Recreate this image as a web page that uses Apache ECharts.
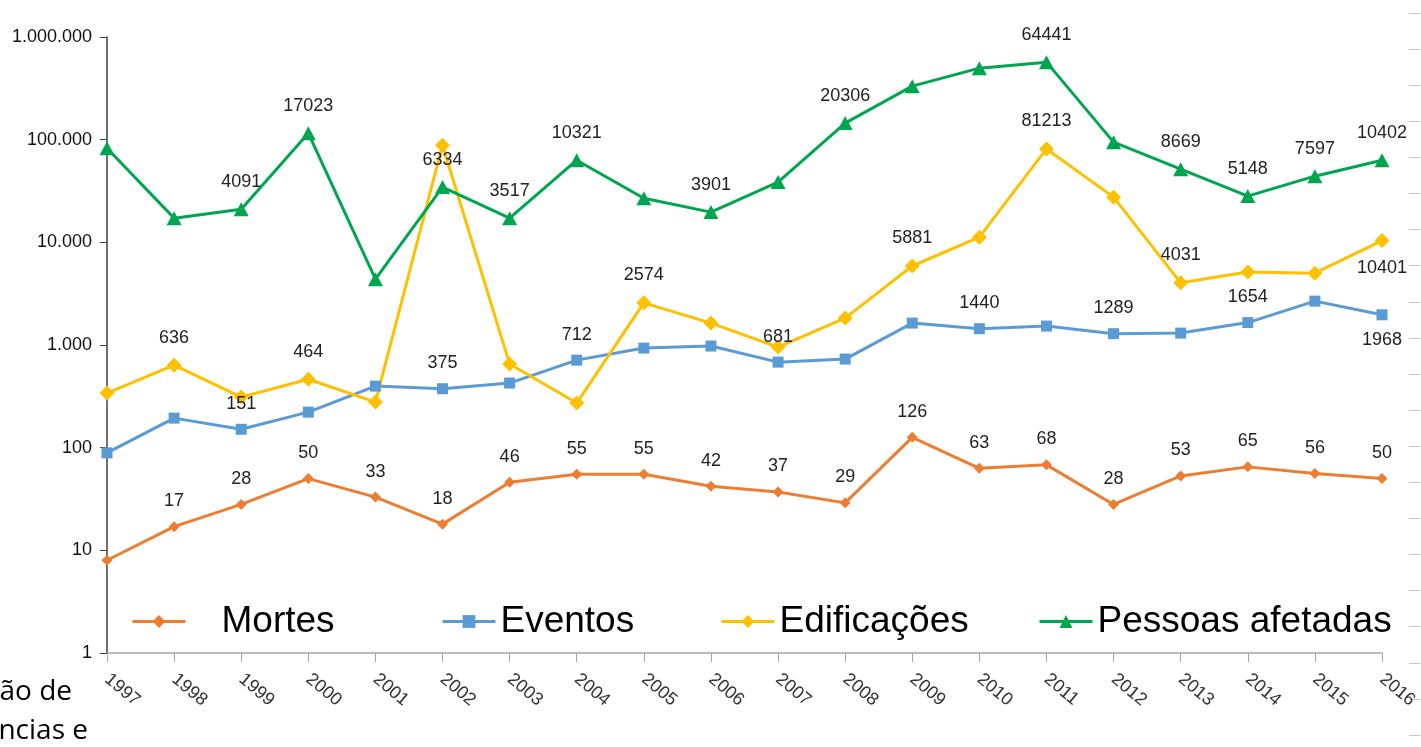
<!DOCTYPE html>
<html>
<head>
<meta charset="utf-8">
<script src="https://cdn.jsdelivr.net/npm/echarts@6/dist/echarts.min.js"></script>
<style>
html,body{margin:0;padding:0;background:#fff;}
#chart{width:1421px;height:747px;}
</style>
</head>
<body>
<div id="chart"></div>
<script>
const years = ['1997','1998','1999','2000','2001','2002','2003','2004','2005','2006','2007','2008','2009','2010','2011','2012','2013','2014','2015','2016'];
const yTickValues = [1, 10, 100, 1000, 10000, 100000, 1000000];

const mortes = [8,17,28,50,33,18,46,55,55,42,37,29,126,63,68,28,53,65,56,50];
const eventos = [89,194,151,222,398,375,426,712,933,977,681,729,1634,1440,1528,1289,1306,1654,2675,1968];
const edificacoes = [340,636,311,464,278,88300,652,272,2574,1634,955,1828,5881,11230,81213,27560,4031,5148,5010,10401];
const pessoas = [82600,17200,21000,115700,4380,34500,17200,63100,26900,19700,38600,145000,332000,497000,569000,94600,51600,28200,44100,63100];

const mortesLabels = ['','17','28','50','33','18','46','55','55','42','37','29','126','63','68','28','53','65','56','50'];
const eventosLabels = ['','','151','','','375','','712','','','681','','','1440','','1289','','1654','','1968'];
const edificacoesLabels = ['','636','','464','','','','','2574','','','','5881','','81213','','4031','','','10401'];
const pessoasLabels = ['','','4091','17023','','6334','3517','10321','','3901','','20306','','','64441','','8669','5148','7597','10402'];

const eventosBelow = ['2016'];
const edificacoesBelow = ['2016'];

const FONT = '"Liberation Sans", Arial, sans-serif';

function fmt(v){
  return String(Math.round(v)).replace(/\B(?=(\d{3})+(?!\d))/g,'.');
}
function build(values, labels, below){
  return values.map((v,i)=>({
    value: v,
    label: {show: labels[i] !== '', position: (below||[]).indexOf(years[i]) >= 0 ? 'bottom' : 'top'}
  }));
}
const labelBase = {distance: 11, fontSize: 18, color: '#222', fontFamily: FONT};

function mkSeries(name, values, labels, below, color, symbol, size){
  return {
    name: name, type: 'line', data: build(values, labels, below),
    xAxisIndex: 0, yAxisIndex: 0,
    symbol: symbol, symbolSize: size,
    lineStyle: {color: color, width: 3},
    itemStyle: {color: color},
    label: Object.assign({formatter: p => labels[p.dataIndex]}, labelBase),
    emphasis: {disabled: true},
    animation: false
  };
}

const legendText = {fontSize: 37, color: '#000', fontFamily: FONT};
function mkLegend(name, left, pad){
  return {
    data: [name], left: left, top: 598, itemWidth: 53, itemHeight: 16,
    lineStyle: {width: 3},
    textStyle: Object.assign({padding: [0,0,0,pad]}, legendText),
    selectedMode: false
  };
}

const chart = echarts.init(document.getElementById('chart'), null, {renderer: 'canvas'});
chart.setOption({
  backgroundColor: '#fff',
  animation: false,
  grid: [
    {left: 107, right: 39, top: 37, bottom: 94},
    {right: 11, width: 1, top: 13, bottom: 12}
  ],
  legend: [
    mkLegend('Mortes', 126, 31),
    mkLegend('Eventos', 436, 0),
    mkLegend('Edificações', 715, 0),
    mkLegend('Pessoas afetadas', 1033, 0)
  ],
  xAxis: [
    {
      type: 'category', data: years, boundaryGap: false, gridIndex: 0,
      axisLine: {lineStyle: {color: '#A6A6A6', width: 1.5}},
      axisTick: {show: true, length: 9, alignWithLabel: true, lineStyle: {color: '#A6A6A6'}},
      axisLabel: {interval: 0, rotate: -40, margin: 24, fontSize: 18, color: '#333', fontFamily: FONT},
      splitLine: {show: false}
    },
    {type: 'value', gridIndex: 1, show: false}
  ],
  yAxis: [
    {
      type: 'log', logBase: 10, min: 1, max: 1000000, splitNumber: 6, gridIndex: 0,
      axisLine: {show: true, lineStyle: {color: '#404040', width: 1.5}},
      axisTick: {show: true, length: 7, lineStyle: {color: '#404040'}},
      axisLabel: {formatter: v => fmt(v), fontSize: 18, margin: 15, color: '#111', fontFamily: FONT},
      splitLine: {show: false},
      minorTick: {show: false}
    },
    {
      type: 'value', gridIndex: 1, min: 0, max: 20, interval: 1, position: 'right',
      axisLine: {show: false},
      axisTick: {show: true, length: 11, inside: false, lineStyle: {color: '#C4C4C4', width: 1}},
      axisLabel: {show: false},
      splitLine: {show: false}
    }
  ],
  graphic: [
    {type: 'text', style: {text: 'ão de', x: 72, y: 692, textAlign: 'right', textVerticalAlign: 'middle', font: '28px "Open Sans", "Noto Sans", sans-serif', fill: '#000'}},
    {type: 'text', style: {text: 'ncias e', x: 88, y: 731, textAlign: 'right', textVerticalAlign: 'middle', font: '28px "Open Sans", "Noto Sans", sans-serif', fill: '#000'}}
  ],
  series: [
    mkSeries('Mortes', mortes, mortesLabels, [], '#ED7D31', 'diamond', [11, 11]),
    mkSeries('Eventos', eventos, eventosLabels, eventosBelow, '#5B9BD5', 'rect', 11),
    mkSeries('Edificações', edificacoes, edificacoesLabels, edificacoesBelow, '#FFC000', 'diamond', [15, 15]),
    mkSeries('Pessoas afetadas', pessoas, pessoasLabels, [], '#00A550', 'triangle', [15, 14])
  ]
});
</script>
</body>
</html>
